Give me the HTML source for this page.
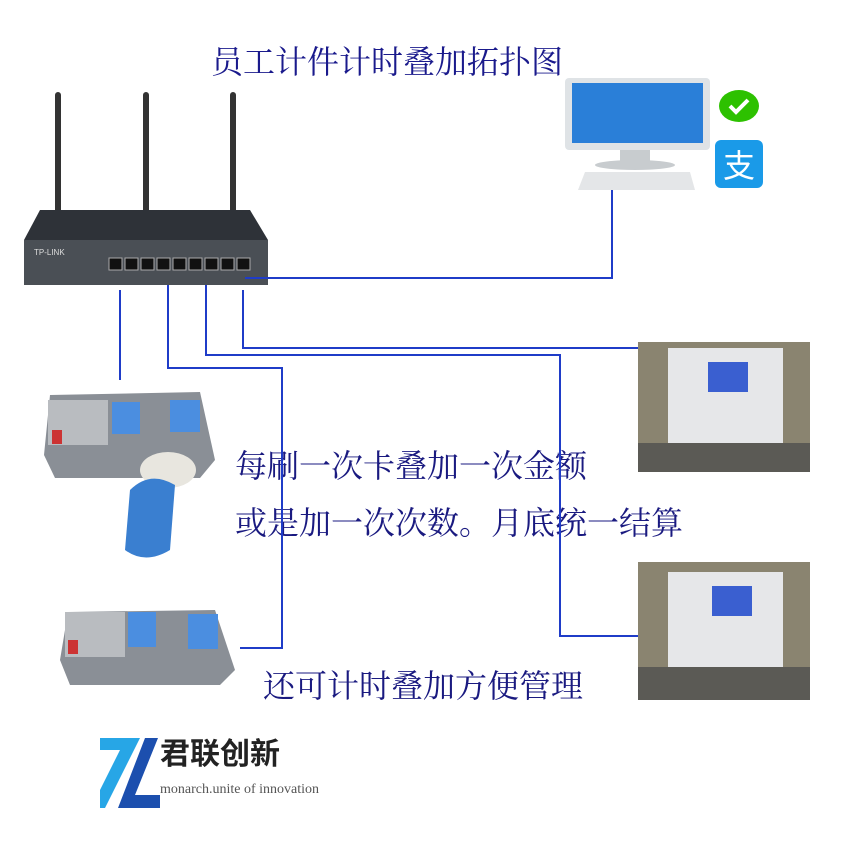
<!DOCTYPE html>
<html><head><meta charset="utf-8"><style>
body{margin:0;width:860px;height:860px;background:#fff;position:relative;overflow:hidden;font-family:"Liberation Sans","Noto Sans CJK SC",sans-serif}
.t{position:absolute;color:#1a1a8c;font-family:"Liberation Serif","Noto Serif CJK SC",serif;white-space:nowrap;line-height:1}
.a{position:absolute}
</style></head><body>
<div class="t" style="left:211px;top:46px;font-size:32px">员工计件计时叠加拓扑图</div>
<div class="t" style="left:235px;top:450px;font-size:32px;color:#1a1a80">每刷一次卡叠加一次金额</div>
<div class="t" style="left:235px;top:507px;font-size:32px;color:#1a1a80">或是加一次次数。月底统一结算</div>
<div class="t" style="left:263px;top:670px;font-size:32px;color:#1a1a80">还可计时叠加方便管理</div>

<svg class="a" style="left:0;top:0" width="860" height="860">
<rect x="55" y="92" width="6" height="130" rx="3" fill="#333"/>
<rect x="143" y="92" width="6" height="130" rx="3" fill="#333"/>
<rect x="230" y="92" width="6" height="130" rx="3" fill="#333"/>
<polygon points="40,210 250,210 268,240 24,240" fill="#2e3238"/>
<rect x="24" y="240" width="244" height="45" fill="#4a4f55"/>
<text x="34" y="255" font-size="8" fill="#ddd" font-family="Liberation Sans">TP-LINK</text>
<g fill="#111" stroke="#aaa" stroke-width="1">
<rect x="109" y="258" width="13" height="12"/><rect x="125" y="258" width="13" height="12"/><rect x="141" y="258" width="13" height="12"/><rect x="157" y="258" width="13" height="12"/><rect x="173" y="258" width="13" height="12"/><rect x="189" y="258" width="13" height="12"/><rect x="205" y="258" width="13" height="12"/><rect x="221" y="258" width="13" height="12"/><rect x="237" y="258" width="13" height="12"/>
</g>
<rect x="565" y="78" width="145" height="72" rx="4" fill="#dfe3e6"/>
<rect x="572" y="83" width="131" height="60" fill="#2a7fd8"/>
<rect x="620" y="150" width="30" height="12" fill="#c8cccf"/>
<ellipse cx="635" cy="165" rx="40" ry="5" fill="#c8cccf"/>
<polygon points="585,172 690,172 695,190 578,190" fill="#e4e6e8"/>
<ellipse cx="739" cy="106" rx="20" ry="16" fill="#2dc100"/>
<path d="M730 106 l6 6 l12 -12" stroke="#fff" stroke-width="4" fill="none"/>
<rect x="715" y="140" width="48" height="48" rx="6" fill="#1a9ae8"/>
<text x="739" y="177" font-size="32" fill="#fff" text-anchor="middle" font-family="Noto Sans CJK SC">支</text>
<g stroke="#1f3cc8" stroke-width="2" fill="none">
<polyline points="245,278 612,278 612,190"/>
<line x1="120" y1="290" x2="120" y2="380"/>
<polyline points="168,285 168,368 282,368 282,648 240,648"/>
<polyline points="206,285 206,355 560,355 560,636 638,636"/>
<polyline points="243,290 243,348 638,348"/>
</g>
<polygon points="50,395 200,392 215,460 200,478 55,478 44,455" fill="#8a8f96"/>
<rect x="48" y="400" width="60" height="45" fill="#b9bcc0"/>
<rect x="112" y="402" width="28" height="32" fill="#4b8ee0"/>
<rect x="170" y="400" width="30" height="32" fill="#4b8ee0"/>
<rect x="52" y="430" width="10" height="14" fill="#c33"/>
<ellipse cx="168" cy="470" rx="28" ry="18" fill="#e8e6df"/>
<path d="M130 490 q20 -20 45 -5 l-5 65 q-25 15 -45 0 z" fill="#3a7fd0"/>
<polygon points="68,612 215,610 235,670 220,685 70,685 60,660" fill="#8a8f96"/>
<rect x="65" y="612" width="60" height="45" fill="#b9bcc0"/>
<rect x="128" y="612" width="28" height="35" fill="#4b8ee0"/>
<rect x="188" y="614" width="30" height="35" fill="#4b8ee0"/>
<rect x="68" y="640" width="10" height="14" fill="#c33"/>
<rect x="638" y="342" width="172" height="130" fill="#8a8470"/>
<rect x="668" y="348" width="115" height="95" fill="#e6e7e9"/>
<rect x="708" y="362" width="40" height="30" fill="#3a5fd0"/>
<rect x="638" y="443" width="172" height="29" fill="#5b5a55"/>
<rect x="638" y="562" width="172" height="138" fill="#8a8470"/>
<rect x="668" y="572" width="115" height="95" fill="#e6e7e9"/>
<rect x="712" y="586" width="40" height="30" fill="#3a5fd0"/>
<rect x="638" y="667" width="172" height="33" fill="#5b5a55"/>
<polygon points="100,738 140,738 105,808 100,808 100,790 120,750 100,750" fill="#27a6e6"/>
<polygon points="145,738 158,738 135,795 160,795 160,808 118,808" fill="#1c4fae"/>
</svg>
<div class="a" style="left:160px;top:733px;font-size:30px;font-weight:bold;color:#222;font-family:'Noto Sans CJK SC',sans-serif;line-height:1.2">君联创新</div>
<div class="a" style="left:160px;top:782px;font-size:14px;color:#555;font-family:'Liberation Serif',serif">monarch.unite of innovation</div>
</body></html>
